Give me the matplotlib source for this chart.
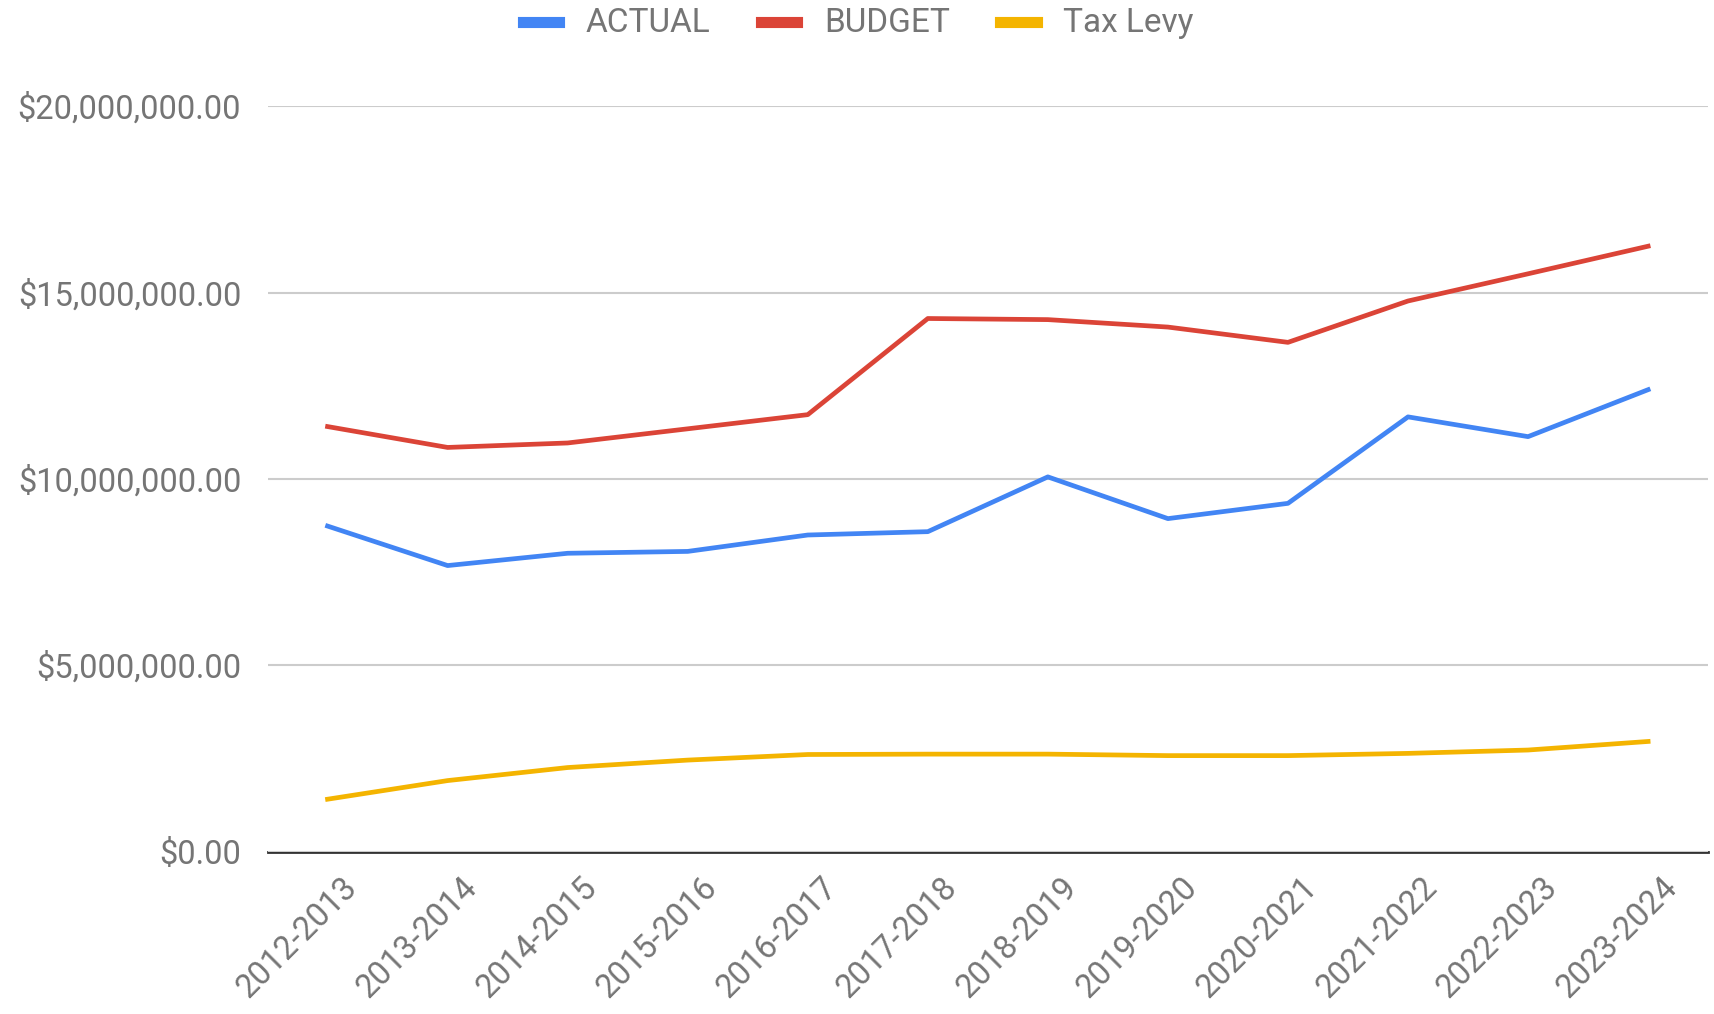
import matplotlib.pyplot as plt
import matplotlib.transforms as mtransforms
from matplotlib.ticker import FuncFormatter

plt.rcParams['font.family'] = ['Roboto', 'DejaVu Sans']

years = ["2012-2013", "2013-2014", "2014-2015", "2015-2016", "2016-2017", "2017-2018",
         "2018-2019", "2019-2020", "2020-2021", "2021-2022", "2022-2023", "2023-2024"]
actual = [8.74e6, 7.68e6, 8.01e6, 8.06e6, 8.50e6, 8.59e6,
          10.06e6, 8.94e6, 9.35e6, 11.67e6, 11.14e6, 12.40e6]
budget = [11.41e6, 10.85e6, 10.97e6, 11.35e6, 11.73e6, 14.31e6,
          14.28e6, 14.08e6, 13.67e6, 14.78e6, 15.51e6, 16.25e6]
tax_levy = [1.41e6, 1.91e6, 2.26e6, 2.46e6, 2.61e6, 2.62e6,
            2.62e6, 2.58e6, 2.58e6, 2.64e6, 2.73e6, 2.96e6]

fig = plt.figure(figsize=(17.15, 10.14), dpi=100)
ax = fig.add_axes([0.156, 0.160, 0.84, 0.735])

x = range(len(years))
ax.plot(x, actual, color="#4285F4", lw=3.4, label="ACTUAL")
ax.plot(x, budget, color="#DB4437", lw=3.4, label="BUDGET")
ax.plot(x, tax_levy, color="#F4B400", lw=3.4, label="Tax Levy")

ax.set_xlim(-0.5, len(years) - 0.5)
ax.set_ylim(0, 20e6)
ax.set_yticks([0, 5e6, 10e6, 15e6, 20e6])
ax.yaxis.set_major_formatter(FuncFormatter(lambda v, p: f"${v:,.2f}"))
ax.grid(axis="y", color="#cccccc", lw=1.5)
ax.set_axisbelow(True)

for s in ["top", "right", "left"]:
    ax.spines[s].set_visible(False)
ax.spines["bottom"].set_color("#333333")
ax.spines["bottom"].set_linewidth(2)
ax.spines["bottom"].set_zorder(0.5)

ax.set_xticks(list(x))
ax.set_xticklabels(years, rotation=45, ha="right", rotation_mode="anchor")
ax.tick_params(axis="both", length=0, labelsize=23.5, labelcolor="#757575")
ax.tick_params(axis="y", pad=19)
ax.tick_params(axis="x", pad=14)

shift = mtransforms.ScaledTranslation(0.13, 0, fig.dpi_scale_trans)
for lab in ax.get_xticklabels():
    lab.set_transform(lab.get_transform() + shift)

leg = ax.legend(loc="lower center", bbox_to_anchor=(0.41, 1.05), ncol=3, frameon=False,
                fontsize=24, handlelength=1.1, handleheight=0.5, columnspacing=1.5,
                handletextpad=0.8)
for t in leg.get_texts():
    t.set_color("#757575")
for h in leg.legend_handles:
    h.set_linewidth(8)

fig.savefig("out.png", dpi=100)
